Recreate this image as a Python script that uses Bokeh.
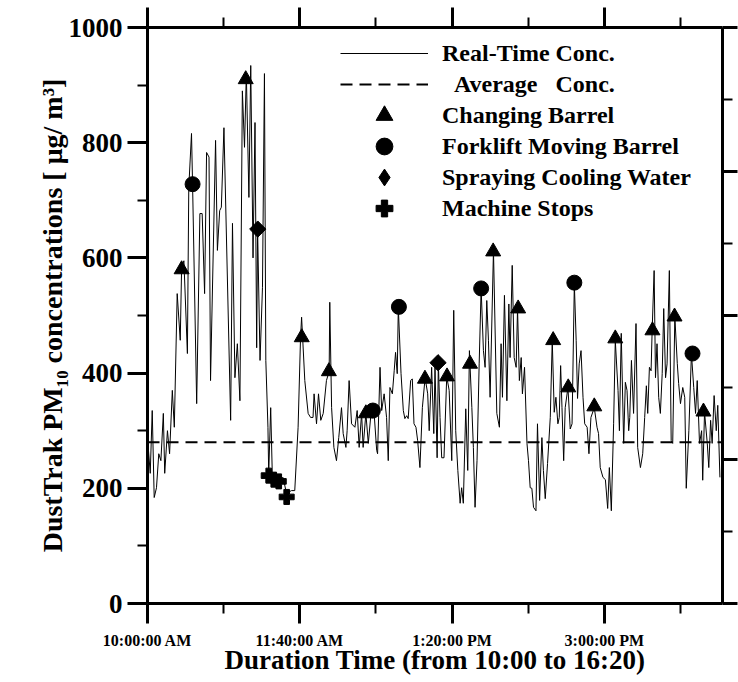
from bokeh.plotting import figure
from bokeh.models import (Range1d, LinearAxis, FixedTicker, Legend, LegendItem,
                          CustomJSTickFormatter)
from bokeh.embed import file_html
from bokeh.resources import INLINE

# ---- data (minutes after 10:00, PM10 concentration in ug/m3) ----
TIMES = [0.5, 1.8, 3.1, 4.4, 5.9, 7.4, 8.8, 10.4, 11.3, 13.1, 14.5, 16.3, 17.6, 19.5,
         21.5, 22.4, 23.9, 26.2, 27.1, 28.9, 29.6, 32.3, 34.4, 35.9, 37.5, 38.8, 40.4,
         41.4, 44.7, 45.9, 47.4, 48.5, 50.2, 54.6, 55.8, 57.4, 59.0, 60.7, 62.3, 63.7,
         64.9, 66.6, 67.8, 69.3, 70.6, 71.7, 72.3, 73.9, 75.5, 76.8, 77.7, 79.1, 79.6,
         80.9, 82.0, 84.7, 86.8, 89.0, 91.3, 94.5, 96.7, 98.9, 100.5, 101.2, 103.3,
         105.5, 107.1, 108.7, 109.4, 111.0, 112.3, 113.8, 115.4, 117.5, 119.3, 119.7,
         120.9, 122.4, 124.1, 125.6, 127.4, 128.5, 130.3, 131.1, 132.4, 134.0, 136.2,
         137.7, 139.0, 140.6, 141.6, 143.4, 145.0, 147.1, 148.7, 150.5, 151.1, 152.7,
         153.8, 155.4, 157.0, 158.1, 159.2, 160.8, 162.0, 162.9, 164.0, 164.7, 166.5,
         168.0, 169.0, 170.2, 171.2, 172.8, 173.9, 175.0, 176.3, 177.4, 178.9, 180.5,
         182.3, 184.0, 185.0, 186.6, 188.0, 188.8, 190.2, 191.0, 192.1, 193.2, 194.7,
         196.5, 198.1, 199.8, 201.1, 202.4, 203.8, 205.3, 206.3, 207.4, 209.0, 210.3,
         211.4, 213.0, 214.0, 215.1, 216.4, 217.8, 219.1, 220.6, 221.7, 222.8, 223.9,
         225.0, 227.2, 229.4, 231.1, 232.2, 233.1, 234.4, 236.0, 237.3, 238.1, 239.5,
         240.8, 242.1, 243.0, 244.2, 245.4, 246.2, 247.6, 249.2, 250.2, 251.3, 252.4,
         253.5, 255.1, 256.1, 257.5, 259.0, 260.0, 261.2, 262.7, 264.5, 265.8, 267.1,
         268.2, 269.5, 270.4, 271.3, 272.2, 273.3, 274.3, 276.1, 277.6, 278.8, 280.3,
         281.5, 282.4, 283.5, 284.7, 286.0, 287.1, 288.7, 289.9, 291.2, 293.4, 295.2,
         296.2, 297.3, 299.1, 300.7, 302.2, 303.3, 304.6, 306.1, 307.2, 309.0, 309.9,
         311.1, 312.7, 313.8, 314.9, 316.0, 316.7, 317.8, 319.2, 320.8, 321.9, 323.7,
         325.2, 326.5, 327.6, 328.5, 329.6, 330.7, 331.4, 332.7, 333.6, 334.6, 335.7,
         336.8, 338.0, 339.0, 340.2, 341.2, 342.7, 343.9, 344.9, 346.3, 347.9, 348.8,
         350.0, 351.5, 352.8, 353.8, 355.5, 357.2, 358.7, 359.9, 361.0, 362.5, 363.9,
         364.6, 365.8, 367.6, 368.6, 369.8, 370.8, 372.1, 373.5, 374.5, 375.9]
CONC = [271, 226, 335, 184, 201, 260, 248, 330, 226, 300, 260, 370, 306, 538,
        457, 583, 595, 434, 722, 816, 728, 347, 677, 677, 538, 783, 775,
        387, 804, 613, 682, 688, 826, 318, 660, 392, 451, 352, 890, 792,
        920, 705, 934, 600, 835, 444, 650, 422, 549, 920, 422, 306, 225,
        340, 219, 222, 215, 219, 191, 196, 196, 306, 462, 497, 387,
        330, 323, 323, 364, 312, 364, 318, 330, 387, 403, 523,
        340, 271, 248, 288, 340, 295, 271, 300, 387, 312, 306,
        335, 271, 330, 271, 330, 278, 340, 335, 266, 260, 410,
        335, 364, 323, 248, 375, 364, 404, 436, 399, 514, 399,
        335, 321, 326, 321, 387, 390, 312, 306, 283, 236, 340,
        392, 364, 300, 410, 295, 410, 253, 418, 323, 253, 253,
        394, 370, 248, 509, 300, 231, 174, 201, 174, 338, 231,
        439, 340, 271, 167, 248, 416, 547, 439, 410, 526, 457,
        358, 613, 330, 306, 451, 358, 535, 352, 520, 427, 587,
        427, 410, 512, 387, 427, 364, 410, 278, 248, 201, 200,
        167, 161, 312, 179, 288, 231, 182, 243, 323, 457, 332,
        358, 312, 323, 413, 340, 248, 340, 375, 303, 312, 555,
        457, 356, 416, 439, 358, 312, 306, 260, 323, 340, 306,
        295, 236, 219, 215, 165, 236, 161, 312, 457, 370, 300,
        469, 278, 384, 370, 300, 323, 422, 330, 486, 271, 236,
        260, 323, 378, 330, 410, 404, 474, 578, 392, 451, 358,
        330, 399, 512, 392, 416, 578, 283, 278, 498, 417, 382,
        347, 375, 358, 200, 300, 434, 375, 330, 387, 278, 300,
        214, 332, 278, 236, 318, 278, 361, 300, 344, 219]
AVERAGE = 280

BARREL_T = [22.4, 64.5, 101.3, 119.1, 143.4, 182.2, 196.7, 211.8, 227.0, 243.4,
            266.4, 276.3, 293.4, 307.2, 331.6, 346.1, 365.1]
BARREL_V = [580, 910, 462, 403, 330, 390, 394, 416, 611, 512,
            457, 375, 342, 460, 474, 498, 333]
FORK_T = [29.6, 148.0, 165.1, 219.1, 280.3, 357.9]
FORK_V = [728, 335, 515, 547, 557, 434]
SPRAY_T = [72.4, 190.8]
SPRAY_V = [650, 418]
STOP_T = [79.6, 82.9, 86.2, 91.4]
STOP_V = [222, 215, 212, 185]

X_START, X_END = 0, 377.6          # 10:00 .. about 16:18
X_TICKS = [0, 100, 200, 300]
X_MINOR = [50, 150, 250, 350]
X_TICK_LABELS = ["10:00:00 AM", "11:40:00 AM", "1:20:00 PM", "3:00:00 PM"]
Y_TICKS = [0, 200, 400, 600, 800, 1000]
Y_MINOR = [100, 300, 500, 700, 900]
R_TICKS = [0, 1, 2, 3, 4]
R_MINOR = [0.5, 1.5, 2.5, 3.5]

FONT = "Liberation Serif"

p = figure(width=738, height=682, output_backend="svg", toolbar_location=None,
           x_range=Range1d(X_START, X_END), y_range=Range1d(0, 1000),
           x_axis_location=None, y_axis_location=None,
           min_border_left=147, min_border_right=16, min_border_top=27,
           min_border_bottom=79)
p.extra_y_ranges = {"r": Range1d(0, 4)}
p.grid.visible = False
p.outline_line_color = None
p.background_fill_color = "white"
p.border_fill_color = "white"

blank = CustomJSTickFormatter(code="return ''")


def style(ax, major=20, minor=10):
    ax.axis_line_width = 3
    ax.axis_line_color = "black"
    ax.major_tick_line_width = 3
    ax.minor_tick_line_width = 2
    ax.major_tick_out = major
    ax.major_tick_in = 0
    ax.minor_tick_out = minor
    ax.minor_tick_in = 0
    ax.major_label_text_font = FONT
    ax.major_label_text_font_style = "bold"
    ax.major_label_text_color = "black"
    ax.axis_label_text_font = FONT
    ax.axis_label_text_font_style = "bold"
    ax.axis_label_text_color = "black"


left = LinearAxis(ticker=FixedTicker(ticks=Y_TICKS, minor_ticks=Y_MINOR),
                  axis_label="DustTrak PM\u2081\u2080 concentrations [ \u03bcg/ m\u00b3]")
style(left)
left.major_label_text_font_size = "27px"
left.major_label_standoff = 5
left.axis_label_text_font_size = "28px"
left.axis_label_standoff = -2
p.add_layout(left, "left")

bottom = LinearAxis(ticker=FixedTicker(ticks=X_TICKS, minor_ticks=X_MINOR),
                    axis_label="Duration Time (from 10:00 to 16:20)",
                    major_label_overrides={t: l for t, l in zip(X_TICKS, X_TICK_LABELS)})
style(bottom)
bottom.major_label_text_font_size = "16px"
bottom.major_label_standoff = 8
bottom.axis_label_text_font_size = "27px"
bottom.axis_label_standoff = -7
p.add_layout(bottom, "below")

top = LinearAxis(ticker=FixedTicker(ticks=X_TICKS, minor_ticks=X_MINOR), formatter=blank)
style(top)
top.major_label_standoff = 0
p.add_layout(top, "above")

right = LinearAxis(y_range_name="r", ticker=FixedTicker(ticks=R_TICKS, minor_ticks=R_MINOR),
                   formatter=blank)
style(right, major=15, minor=10)
right.major_label_standoff = 0
p.add_layout(right, "right")

# ---- glyphs ----
DASH = "12 7"
r_avg = p.line(x=[X_START, X_END], y=[AVERAGE, AVERAGE], line_color="black",
               line_width=2, line_dash=DASH)
r_line = p.line(TIMES, CONC, line_color="black", line_width=1)
r_tri = p.scatter(BARREL_T, BARREL_V, marker="triangle", size=15, color="black")
r_cir = p.scatter(FORK_T, FORK_V, marker="circle", size=15, color="black")
# a diamond drawn under the rotated square provides the legend symbol
r_dia_leg = p.scatter(SPRAY_T, SPRAY_V, marker="diamond", size=14, color="black")
r_dia = p.scatter(SPRAY_T, SPRAY_V, marker="square", angle=0.785398, size=11.5,
                  color="black")
r_plus = p.scatter(STOP_T, STOP_V, marker="plus", size=15, color="black")

# two interleaved legends so that the rows sit close while the symbols stay large
common = dict(glyph_width=88, glyph_height=42, spacing=20, label_standoff=14,
              padding=0, margin=0, border_line_color=None, background_fill_alpha=0,
              label_text_font=FONT, label_text_font_style="bold",
              label_text_font_size="24px", label_text_color="black")
legend_a = Legend(items=[
    LegendItem(label="Real-Time Conc.", renderers=[r_line]),
    LegendItem(label="Changing Barrel", renderers=[r_tri]),
    LegendItem(label="Spraying Cooling Water", renderers=[r_dia_leg]),
], location=(193, 405), **common)
legend_b = Legend(items=[
    LegendItem(label="\u00a0\u00a0Average\u00a0\u00a0 Conc.", renderers=[r_avg]),
    LegendItem(label="Forklift Moving Barrel", renderers=[r_cir]),
    LegendItem(label="Machine Stops", renderers=[r_plus]),
], location=(193, 374), **common)
p.add_layout(legend_a)
p.add_layout(legend_b)

open("out.html", "w").write(file_html(p, INLINE))
